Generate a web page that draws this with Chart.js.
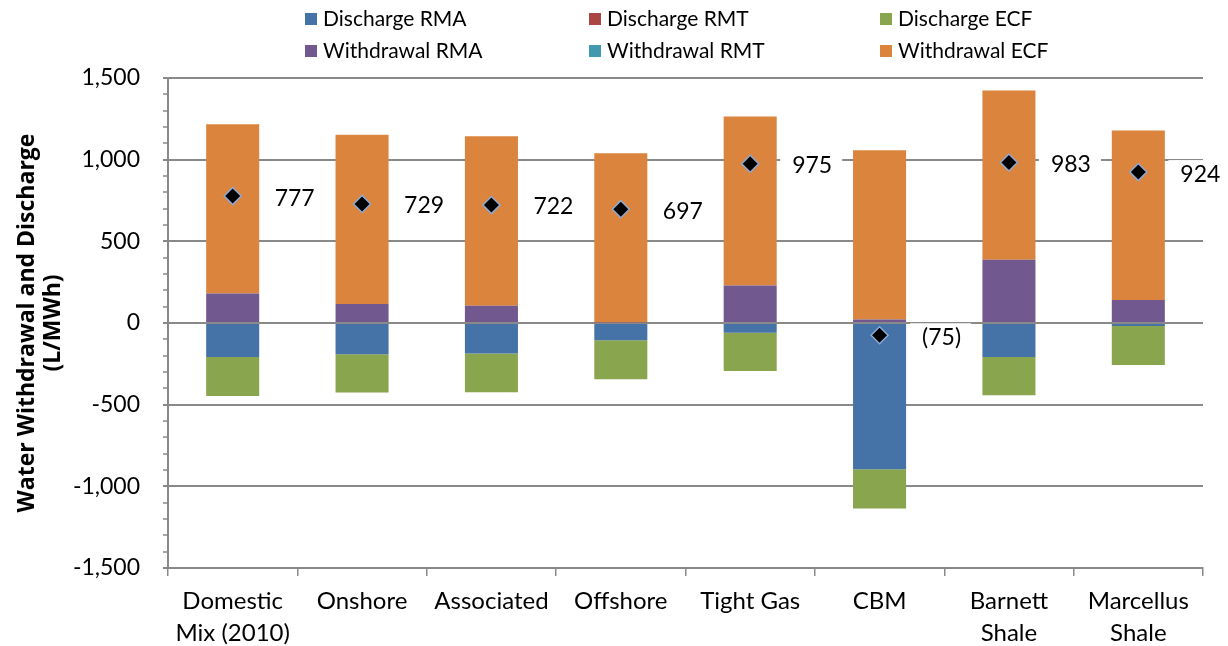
<!DOCTYPE html>
<html>
<head>
<meta charset="utf-8">
<script src="https://cdn.jsdelivr.net/npm/chart.js@4.4.1/dist/chart.umd.min.js"></script>
<style>
  body { margin: 0; background: #fff; }
  #wrap { position: relative; width: 1228px; height: 646px; }
  #legend { position: absolute; left: 0; top: 0; width: 1228px; height: 70px; font-family: Lato, sans-serif; font-size: 21px; color: #000; }
  .item { position: absolute; white-space: nowrap; line-height: 22px; }
  .box { display: inline-block; width: 12px; height: 12px; margin-right: 6px; vertical-align: 1px; }
</style>
</head>
<body>
<div id="wrap">
  <canvas id="myChart" width="1228" height="646"></canvas>
  <div id="legend"></div>
</div>
<script>
// categories and values (L/MWh)
var categories = [['Domestic', 'Mix (2010)'], 'Onshore', 'Associated', 'Offshore', 'Tight Gas', 'CBM', ['Barnett', 'Shale'], ['Marcellus', 'Shale']];
var dischargeRMA = [-208, -192, -187, -106, -59, -896, -208, -18];
var dischargeRMT = [0, 0, 0, 0, 0, 0, 0, 0];
var dischargeECF = [-239, -234, -237, -239, -235, -240, -235, -239];
var withdrawalRMA = [180, 116, 106, 3, 229, 21, 388, 141];
var withdrawalRMT = [0, 0, 0, 0, 0, 0, 0, 0];
var withdrawalECF = [1037, 1037, 1037, 1036, 1036, 1036, 1036, 1037];
var netValues = [777, 729, 722, 697, 975, -75, 983, 924];
var yTicks = [-1500, -1000, -500, 0, 500, 1000, 1500];

var FONT = 'Lato, sans-serif';

var series = [
    { label: 'Discharge RMA', data: dischargeRMA, color: '#4572A7' },
    { label: 'Discharge RMT', data: dischargeRMT, color: '#AA4643' },
    { label: 'Discharge ECF', data: dischargeECF, color: '#89A54E' },
    { label: 'Withdrawal RMA', data: withdrawalRMA, color: '#71588F' },
    { label: 'Withdrawal RMT', data: withdrawalRMT, color: '#4198AF' },
    { label: 'Withdrawal ECF', data: withdrawalECF, color: '#DB843D' }
];

// legend: 2 rows x 3 columns
var legend = document.getElementById('legend');
var colX = [305, 589, 880];
var rowY = [7, 39];
series.forEach(function (s, i) {
    var el = document.createElement('div');
    el.className = 'item';
    el.style.left = colX[i % 3] + 'px';
    el.style.top = rowY[Math.floor(i / 3)] + 'px';
    el.innerHTML = '<span class="box" style="background:' + s.color + '"></span>' + s.label;
    legend.appendChild(el);
});

function fmt(v) {
    if (v < 0) return '(' + Math.abs(v) + ')';
    return String(v);
}

var extras = {
    id: 'extras',
    beforeDatasetsDraw: function (chart) {
        // net value labels, white box knocks out the grid line behind them
        var ctx = chart.ctx;
        var meta = chart.getDatasetMeta(series.length);
        ctx.save();
        ctx.font = '23px ' + FONT;
        ctx.textAlign = 'center';
        ctx.textBaseline = 'middle';
        meta.data.forEach(function (pt, i) {
            var txt = fmt(netValues[i]);
            var x = pt.x + 62, y = pt.y + 2;
            var w = ctx.measureText(txt).width;
            ctx.fillStyle = '#fff';
            ctx.fillRect(x - w / 2 - 12, y - 14, w + 22, 28);
            ctx.fillStyle = '#000';
            ctx.fillText(txt, x, y);
        });
        ctx.restore();
    },
    afterDraw: function (chart) {
        // minor tick marks on the value axis
        var ctx = chart.ctx, ys = chart.scales.y, left = chart.chartArea.left;
        ctx.save();
        ctx.strokeStyle = '#898989';
        ctx.lineWidth = 1.5;
        for (var v = -1500; v <= 1500; v += 100) {
            var py = Math.round(ys.getPixelForValue(v));
            ctx.beginPath();
            ctx.moveTo(left - 5, py);
            ctx.lineTo(left, py);
            ctx.stroke();
        }
        ctx.restore();
    }
};

var datasets = series.map(function (s) {
    return {
        type: 'bar',
        label: s.label,
        data: s.data,
        backgroundColor: s.color,
        borderWidth: 0,
        stack: 'flows'
    };
});
datasets.push({
    type: 'line',
    label: 'Net',
    data: netValues,
    stack: 'net',
    order: -1,
    showLine: false,
    pointStyle: 'rectRot',
    pointRadius: 8.5,
    pointBackgroundColor: '#000',
    pointBorderColor: '#8EAAD6',
    pointBorderWidth: 1.5
});

var ctx = document.getElementById('myChart').getContext('2d');
var myChart = new Chart(ctx, {
    data: {
        labels: categories,
        datasets: datasets
    },
    options: {
        responsive: false,
        animation: false,
        datasets: {
            bar: { barPercentage: 0.41, categoryPercentage: 1 }
        },
        layout: { padding: { top: 78, right: 25, left: 0, bottom: 0 } },
        plugins: {
            legend: { display: false },
            tooltip: { enabled: false }
        },
        scales: {
            x: {
                stacked: true,
                afterFit: function (scale) { scale.height = 78; },
                grid: {
                    offset: true,
                    drawOnChartArea: false,
                    tickLength: 8,
                    color: '#898989',
                    lineWidth: 1.5
                },
                border: { color: '#898989', width: 2 },
                ticks: {
                    color: '#000',
                    padding: 10,
                    maxRotation: 0,
                    autoSkip: false,
                    font: { family: FONT, size: 24, lineHeight: 1.3 }
                }
            },
            y: {
                stacked: true,
                min: -1500,
                max: 1500,
                afterFit: function (scale) { scale.width = 168; },
                afterBuildTicks: function (scale) {
                    scale.ticks = yTicks.map(function (v) { return { value: v }; });
                },
                grid: {
                    color: '#898989',
                    lineWidth: 2,
                    tickLength: 5
                },
                border: { color: '#898989', width: 2 },
                ticks: {
                    color: '#000',
                    padding: 23,
                    font: { family: FONT, size: 23 },
                    callback: function (v) { return Number(v).toLocaleString('en-US'); }
                },
                title: {
                    display: true,
                    text: ['Water Withdrawal and Discharge', '(L/MWh)'],
                    color: '#000',
                    padding: { top: 14, bottom: 0 },
                    font: { family: '"Open Sans", sans-serif', size: 23, weight: 'bold', lineHeight: 1.13 }
                }
            }
        }
    },
    plugins: [extras]
});
</script>
</body>
</html>
